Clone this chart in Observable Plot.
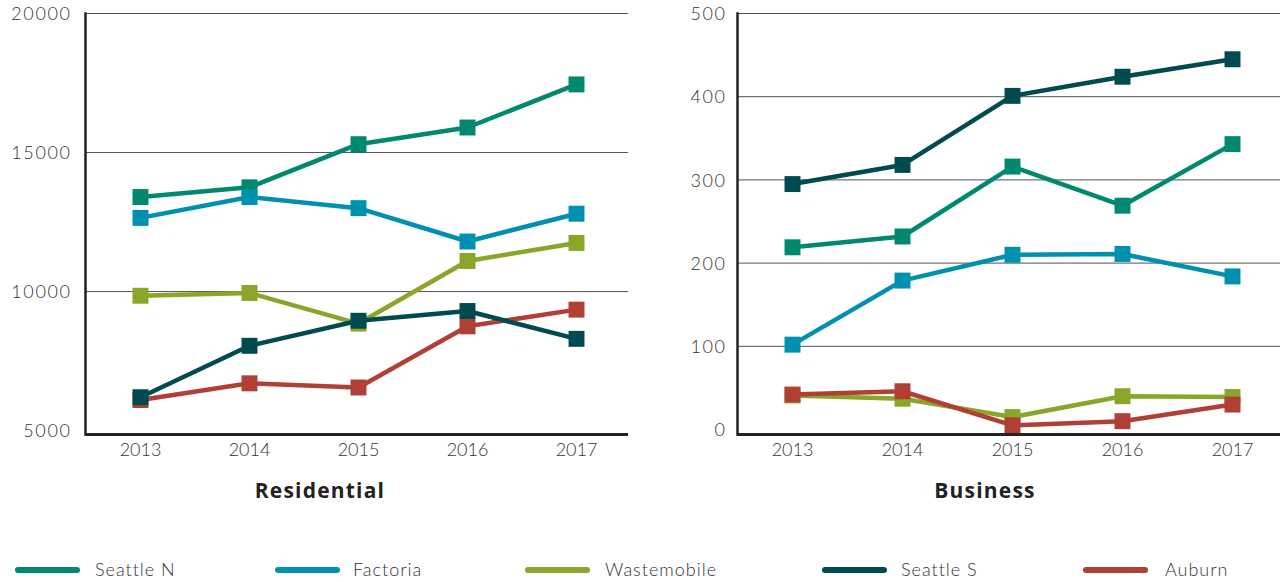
<!DOCTYPE html>
<html>
<head>
<meta charset="utf-8">
<script src="https://cdn.jsdelivr.net/npm/d3@7"></script>
<script src="https://cdn.jsdelivr.net/npm/@observablehq/plot@0.6"></script>
<style>
  body { margin: 0; background: #fff; font-family: Lato, "Open Sans", sans-serif; }
  #wrap { position: relative; width: 1280px; height: 582px; overflow: hidden; background: #fff; }
  .chart { position: absolute; top: 0; }
  .title { position: absolute; top: 476px; font-family: "Open Sans", Lato, sans-serif; font-size: 21px; font-weight: 700; letter-spacing: 1.2px; color: #222; transform: translateX(-50%); white-space: nowrap; }
  .sw { position: absolute; top: 567px; width: 65px; height: 6px; border-radius: 3px; }
  .lt { position: absolute; top: 558px; font-size: 18px; font-weight: 300; letter-spacing: 1px; color: #333; white-space: nowrap; }
  .ytick text { letter-spacing: 1.6px; }
</style>
</head>
<body>
<div id="wrap"></div>
<script>
// ---- data ----
const years = [2013, 2014, 2015, 2016, 2017];
const seriesNames = ["Seattle N", "Factoria", "Wastemobile", "Seattle S", "Auburn"];
const seriesColors = ["#00896f", "#0090b0", "#8aa62a", "#004b50", "#b04035"];

const resSeattleN   = [13400, 13750, 15300, 15900, 17450];
const resFactoria   = [12650, 13400, 13000, 11800, 12800];
const resWastemobile= [9850, 9950, 8850, 11100, 11750];
const resSeattleS   = [6200, 8050, 8950, 9300, 8300];
const resAuburn     = [6100, 6700, 6550, 8750, 9350];

const busSeattleN   = [219, 232, 316, 269, 343];
const busFactoria   = [102, 179, 210, 211, 184];
const busWastemobile= [41, 37, 15, 40, 39];
const busSeattleS   = [295, 318, 401, 424, 445];
const busAuburn     = [42, 46, 5, 10, 30];

const resTicks = [5000, 10000, 15000, 20000];
const busTicks = [0, 100, 200, 300, 400, 500];
const chartTitles = ["Residential", "Business"];

// drawing order (later on top)
const drawOrder = ["Seattle N", "Factoria", "Wastemobile", "Auburn", "Seattle S"];

function makeChart(valuesByName, opts) {
  const marks = [
    Plot.gridY(opts.grid, {stroke: "#333", strokeOpacity: 0.85, strokeWidth: 1}),
  ];
  for (const name of drawOrder) {
    const i = seriesNames.indexOf(name);
    const data = years.map((y, k) => ({year: y, value: valuesByName[name][k]}));
    marks.push(Plot.line(data, {x: "year", y: "value", stroke: seriesColors[i], strokeWidth: 4.5}));
    marks.push(Plot.dot(data, {x: "year", y: "value", symbol: "square", r: 9, fill: seriesColors[i], stroke: null}));
  }
  marks.push(Plot.frame({anchor: "left", stroke: "#222", strokeWidth: 2.5}));
  marks.push(Plot.ruleY([opts.domain[0]], {stroke: "#222", strokeWidth: 3}));
  marks.push(Plot.axisX({tickSize: 0, tickPadding: 9, label: null, fontWeight: 300, tickFormat: d => String(d)}));
  marks.push(Plot.axisY(opts.ticks, {tickSize: 0, tickPadding: opts.tickPad, label: null, fontWeight: 300, className: "ytick", dy: opts.dy, tickFormat: d3.format("d")}));
  return Plot.plot({
    width: 640,
    height: 470,
    marginTop: 13,
    marginBottom: 36,
    marginLeft: opts.marginLeft,
    marginRight: opts.marginRight,
    style: {fontFamily: "Lato, 'Open Sans', sans-serif", fontSize: "18px", color: "#333", background: "transparent", overflow: "hidden"},
    x: {type: "point", domain: years, padding: 0.5, range: opts.xRange},
    y: {domain: opts.domain},
    marks
  });
}

const wrap = document.getElementById("wrap");

const left = makeChart({
  "Seattle N": resSeattleN, "Factoria": resFactoria, "Wastemobile": resWastemobile,
  "Seattle S": resSeattleS, "Auburn": resAuburn
}, {domain: [4860, 20000], ticks: resTicks, grid: [10000, 15000, 20000], marginLeft: 85, marginRight: 12, xRange: [85, 630], tickPad: 14, dy: 1});
left.classList.add("chart");
left.style.left = "0px";
wrap.appendChild(left);

const right = makeChart({
  "Seattle N": busSeattleN, "Factoria": busFactoria, "Wastemobile": busWastemobile,
  "Seattle S": busSeattleS, "Auburn": busAuburn
}, {domain: [-6, 500], ticks: busTicks, grid: [100, 200, 300, 400, 500], marginLeft: 97, marginRight: 0, xRange: [97, 647], tickPad: 11, dy: 1});
right.classList.add("chart");
right.style.left = "640px";
wrap.appendChild(right);

// titles
[[320, chartTitles[0]], [985, chartTitles[1]]].forEach(([x, t]) => {
  const d = document.createElement("div");
  d.className = "title";
  d.style.left = x + "px";
  d.textContent = t;
  wrap.appendChild(d);
});

// legend
const swX = [15, 275, 525, 822, 1083];
const txX = [95, 353, 605, 901, 1165];
seriesNames.forEach((name, i) => {
  const s = document.createElement("div");
  s.className = "sw";
  s.style.left = swX[i] + "px";
  s.style.background = seriesColors[i];
  wrap.appendChild(s);
  const t = document.createElement("div");
  t.className = "lt";
  t.style.left = txX[i] + "px";
  t.textContent = name;
  wrap.appendChild(t);
});
</script>
</body>
</html>
